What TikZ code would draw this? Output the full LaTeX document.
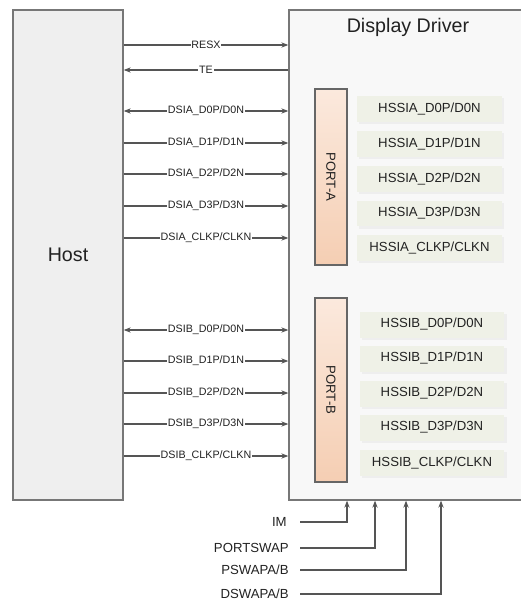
\documentclass[tikz,border=0pt]{standalone}
\usepackage{fontspec}
\setmainfont{Liberation Sans}
\usepackage{tikz}
\usetikzlibrary{calc,positioning,arrows.meta,shadows}
\definecolor{ddLine}{HTML}{555555}
\definecolor{ddText}{HTML}{222222}
\definecolor{ddHost}{HTML}{EFEFEF}
\definecolor{ddDrv}{HTML}{F8F8F8}
\definecolor{ddPortTop}{HTML}{FBE9DD}
\definecolor{ddPortBot}{HTML}{F5CEB3}
\definecolor{ddLane}{HTML}{EFF1E7}
\begin{document}
\begin{tikzpicture}[x=0.02cm,y=-0.02cm,
  blk/.style={draw=ddLine!80,line width=0.8pt,text=ddText,minimum height=9.8cm,
              font=\fontsize{11.2}{13}\selectfont,
              drop shadow={shadow xshift=0.6pt,shadow yshift=-0.8pt,fill=black!25}},
  port/.style={draw=ddLine!90,line width=0.8pt,top color=ddPortTop,bottom color=ddPortBot,
               minimum width=0.64cm},
  ptxt/.style={rotate=-90,font=\fontsize{7.5}{9}\selectfont,text=ddText},
  lane/.style={fill=ddLane,minimum width=2.9cm,minimum height=0.52cm,
               font=\fontsize{7.5}{9}\selectfont,text=ddText,
               drop shadow={shadow xshift=1.2pt,shadow yshift=-1.2pt,fill=black!10}},
  sig/.style={font=\fontsize{6.1}{7}\selectfont,text=ddText,fill=white,inner sep=0.5pt},
  ctl/.style={font=\fontsize{7.5}{9}\selectfont,text=ddText,inner sep=0pt,anchor=east},
  a/.style={-{Stealth[length=4pt,width=3pt]},ddLine,line width=0.6pt},
  aa/.style={{Stealth[length=4pt,width=3pt]}-{Stealth[length=4pt,width=3pt]},ddLine,line width=0.6pt}]
  \useasboundingbox (0,0) rectangle (520,601);
  % blocks
  \node[blk,fill=ddHost,minimum width=2.2cm] (host) at (68,255) {Host};
  \node[blk,fill=ddDrv,minimum width=4.7cm] (drv) at (406.5,255) {};
  \node[font=\fontsize{11.2}{13}\selectfont,text=ddText] (title) at (408,27) {Display Driver};
  % ports
  \node[port,minimum height=3.52cm] (pa) at (331,177) {};
  \node[ptxt] at (pa) {PORT-A};
  \node[port,minimum height=3.68cm] (pb) at (331,390) {};
  \node[ptxt] at (pb) {PORT-B};
  % lanes A
  \node[lane] (a0) at (429.5,109) {HSSIA\_D0P/D0N};
  \node[lane] (a1) at (429.5,144) {HSSIA\_D1P/D1N};
  \node[lane] (a2) at (429.5,179) {HSSIA\_D2P/D2N};
  \node[lane] (a3) at (429.5,213.5) {HSSIA\_D3P/D3N};
  \node[lane] (ac) at (429.5,248) {HSSIA\_CLKP/CLKN};
  % lanes B
  \node[lane] (b0) at (432,324.5) {HSSIB\_D0P/D0N};
  \node[lane] (b1) at (432,358.5) {HSSIB\_D1P/D1N};
  \node[lane] (b2) at (432,393.5) {HSSIB\_D2P/D2N};
  \node[lane] (b3) at (432,427.5) {HSSIB\_D3P/D3N};
  \node[lane] (bc) at (432,463) {HSSIB\_CLKP/CLKN};
  % host <-> driver
  \draw[a] (host.east|-0,45) -- node[sig]{RESX} (drv.west|-0,45);
  \draw[a] (drv.west|-0,70) -- node[sig]{TE} (host.east|-0,70);
  \draw[aa] (host.east|-0,111) -- node[sig]{DSIA\_D0P/D0N} (drv.west|-0,111);
  \draw[a] (host.east|-0,143) -- node[sig]{DSIA\_D1P/D1N} (drv.west|-0,143);
  \draw[a] (host.east|-0,174) -- node[sig]{DSIA\_D2P/D2N} (drv.west|-0,174);
  \draw[a] (host.east|-0,206) -- node[sig]{DSIA\_D3P/D3N} (drv.west|-0,206);
  \draw[a] (host.east|-0,238) -- node[sig]{DSIA\_CLKP/CLKN} (drv.west|-0,238);
  \draw[aa] (host.east|-0,330) -- node[sig]{DSIB\_D0P/D0N} (drv.west|-0,330);
  \draw[a] (host.east|-0,361) -- node[sig]{DSIB\_D1P/D1N} (drv.west|-0,361);
  \draw[a] (host.east|-0,393) -- node[sig]{DSIB\_D2P/D2N} (drv.west|-0,393);
  \draw[a] (host.east|-0,424) -- node[sig]{DSIB\_D3P/D3N} (drv.west|-0,424);
  \draw[a] (host.east|-0,456) -- node[sig]{DSIB\_CLKP/CLKN} (drv.west|-0,456);
  % mode pins
  \node[ctl] (im) at (287,522) {IM};
  \node[ctl] (psw) at (289,548) {PORTSWAP};
  \node[ctl] (pab) at (289,570) {PSWAPA/B};
  \node[ctl] (dab) at (289,594) {DSWAPA/B};
  \draw[a] ([xshift=0.26cm]im.east) -| (drv.south-|347,0);
  \draw[a] ([xshift=0.22cm]psw.east) -| (drv.south-|375,0);
  \draw[a] ([xshift=0.22cm]pab.east) -| (drv.south-|406,0);
  \draw[a] ([xshift=0.22cm]dab.east) -| (drv.south-|441,0);
\end{tikzpicture}
\end{document}
